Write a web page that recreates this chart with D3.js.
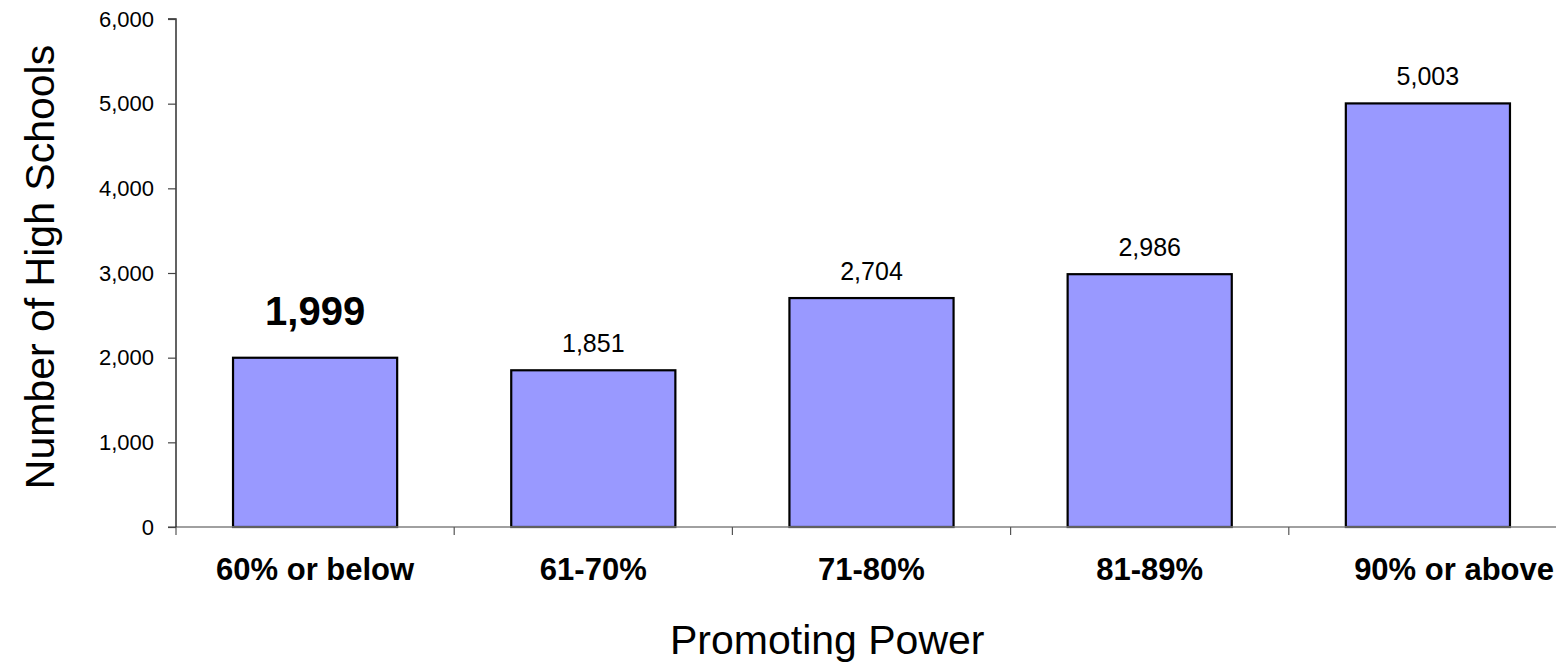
<!DOCTYPE html>
<html>
<head>
<meta charset="utf-8">
<script src="https://cdn.jsdelivr.net/npm/d3@7"></script>
<style>
  html, body { margin: 0; padding: 0; background: #fff; }
  svg { display: block; font-family: "Liberation Sans", Arial, sans-serif; }
</style>
</head>
<body>
<svg id="chart" width="1556" height="665"></svg>
<script>
// Number of high schools by promoting power band
const categories = ["60% or below", "61-70%", "71-80%", "81-89%", "90% or above"];
const schools = [1999, 1851, 2704, 2986, 5003];
const yTicks = [0, 1000, 2000, 3000, 4000, 5000, 6000];
const highlighted = ["60% or below"];

const W = 1556, H = 665;
const svg = d3.select("#chart");
const margin = { left: 176, top: 19, bottom: 138 };
const plotBottom = H - margin.bottom;   // 527
const bandStep = 278.2;

const x = d3.scaleBand()
  .domain(categories)
  .range([margin.left, margin.left + bandStep * categories.length])
  .paddingInner(0.41)
  .paddingOuter(0.205);

const y = d3.scaleLinear()
  .domain([0, 6000])
  .range([plotBottom, margin.top]);

// Bars
svg.append("g")
  .selectAll("rect")
  .data(categories)
  .join("rect")
  .attr("x", d => x(d))
  .attr("y", (d, i) => y(schools[i]))
  .attr("width", x.bandwidth())
  .attr("height", (d, i) => y(0) - y(schools[i]))
  .attr("fill", "#9999ff")
  .attr("stroke", "#000")
  .attr("stroke-width", 2.2);

// X axis (baseline with ticks between bands)
const xAxisG = svg.append("g");
xAxisG.append("line")
  .attr("x1", margin.left - 8).attr("x2", W)
  .attr("y1", plotBottom).attr("y2", plotBottom)
  .attr("stroke", "#808080").attr("stroke-width", 1.5);
const boundaries = d3.range(categories.length).map(i => margin.left + i * bandStep);
xAxisG.selectAll("line.tick")
  .data(boundaries)
  .join("line")
  .attr("class", "tick")
  .attr("x1", d => d).attr("x2", d => d)
  .attr("y1", plotBottom).attr("y2", plotBottom + 8)
  .attr("stroke", "#555").attr("stroke-width", 1.2);

// Category labels; the last one is pushed against the right edge
const lastCat = categories[categories.length - 1];
svg.append("g")
  .selectAll("text")
  .data(categories)
  .join("text")
  .attr("x", d => d === lastCat ? W - 2 : x(d) + x.bandwidth() / 2)
  .attr("y", 580)
  .attr("text-anchor", d => d === lastCat ? "end" : "middle")
  .attr("font-size", 31)
  .attr("font-weight", "bold")
  .attr("fill", "#000")
  .text(d => d);

// Y axis
const yAxis = d3.axisLeft(y)
  .tickValues(yTicks)
  .tickSize(8)
  .tickPadding(14)
  .tickFormat(d3.format(","));
const yAxisG = svg.append("g")
  .attr("transform", `translate(${margin.left},0)`)
  .call(yAxis);
yAxisG.select(".domain").attr("stroke", "#222").attr("stroke-width", 1.4)
  .attr("d", `M-8,${y(6000)}H0V${y(0)}`);
yAxisG.selectAll(".tick line").attr("stroke", "#444").attr("stroke-width", 1.2);
yAxisG.selectAll(".tick text")
  .attr("font-size", 22)
  .attr("font-family", "Liberation Sans, Arial, sans-serif")
  .attr("fill", "#000");

// Value labels
svg.append("g")
  .selectAll("text")
  .data(categories)
  .join("text")
  .attr("x", d => x(d) + x.bandwidth() / 2)
  .attr("y", (d, i) => highlighted.includes(d) ? y(schools[i]) - 33 : y(schools[i]) - 18)
  .attr("text-anchor", "middle")
  .attr("font-size", d => highlighted.includes(d) ? 40 : 25)
  .attr("font-weight", d => highlighted.includes(d) ? "bold" : "normal")
  .attr("fill", "#000")
  .text((d, i) => d3.format(",")(schools[i]));

// Axis titles
svg.append("text")
  .attr("transform", "translate(54,267) rotate(-90)")
  .attr("text-anchor", "middle")
  .attr("font-size", 41)
  .attr("fill", "#000")
  .text("Number of High Schools");

svg.append("text")
  .attr("x", 670)
  .attr("y", 654)
  .attr("text-anchor", "start")
  .attr("font-size", 41)
  .attr("fill", "#000")
  .text("Promoting Power");
</script>
</body>
</html>
